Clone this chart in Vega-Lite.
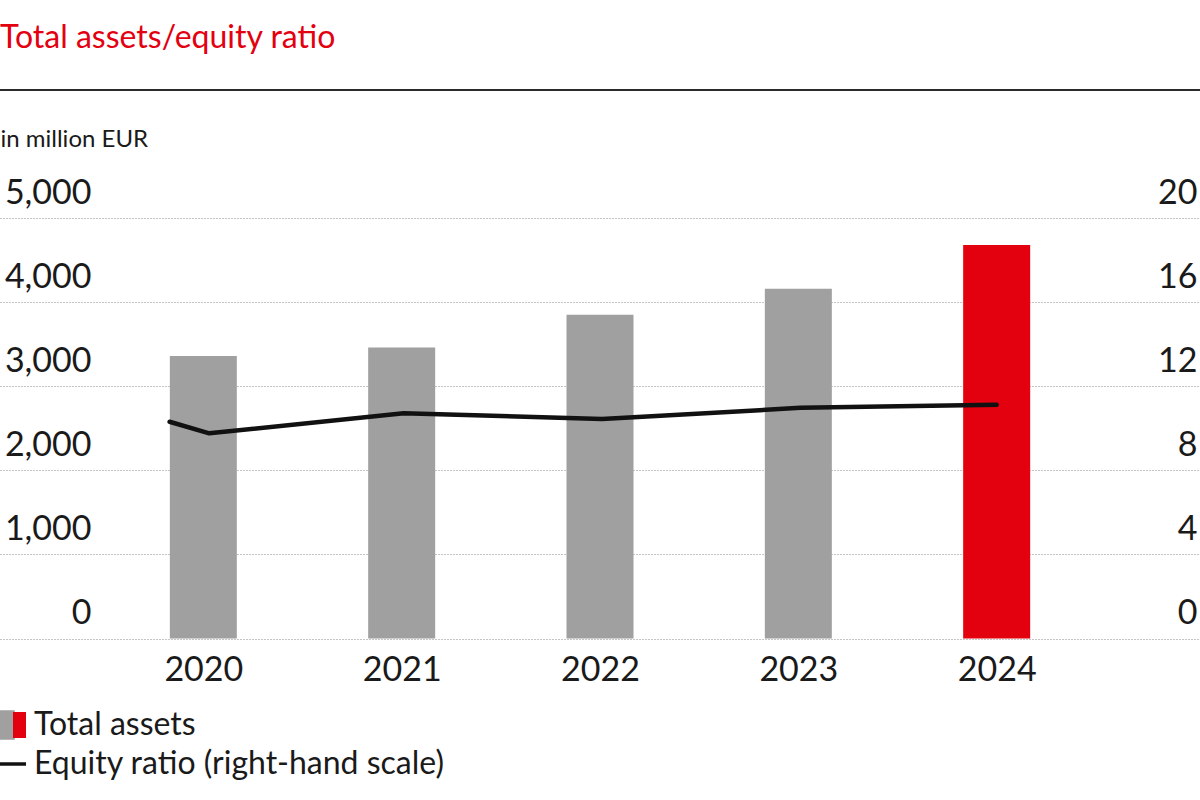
{
  "$schema": "https://vega.github.io/schema/vega-lite/v6.json",
  "width": 1200,
  "height": 420.5,
  "autosize": {"type": "none"},
  "padding": {"left": 0, "top": 218, "right": 0, "bottom": 161.5},
  "background": "white",
  "title": {
    "text": "Total assets/equity ratio",
    "anchor": "start",
    "frame": "group",
    "orient": "top",
    "baseline": "alphabetic",
    "offset": 9,
    "color": "#e3000f",
    "font": "Lato",
    "fontSize": 32,
    "fontWeight": "normal"
  },
  "datasets": {
    "assets": [
      {"year": 2020, "assets": 3360},
      {"year": 2021, "assets": 3460},
      {"year": 2022, "assets": 3850},
      {"year": 2023, "assets": 4160},
      {"year": 2024, "assets": 4680}
    ],
    "ratio": [
      {"year": 2019.83, "ratio": 10.31},
      {"year": 2020.03, "ratio": 9.76},
      {"year": 2021.01, "ratio": 10.71},
      {"year": 2022.01, "ratio": 10.44},
      {"year": 2023.01, "ratio": 10.97},
      {"year": 2024.0, "ratio": 11.12}
    ]
  },
  "layer": [
    {
      "data": {"values": [{}]},
      "mark": {"type": "rule", "color": "#2b2b2b", "strokeWidth": 2},
      "encoding": {
        "y": {"datum": 6522, "type": "quantitative", "scale": {"domain": [0, 5000]}, "axis": null}
      }
    },
    {
      "data": {"name": "assets"},
      "mark": {"type": "bar", "size": 67},
      "encoding": {
        "x": {
          "field": "year",
          "type": "quantitative",
          "scale": {"domain": [2019, 2025], "nice": false, "zero": false},
          "axis": {
            "values": [2020, 2021, 2022, 2023, 2024],
            "format": "d",
            "title": null,
            "grid": false,
            "domain": false,
            "ticks": false,
            "labelFontSize": 34,
            "labelColor": "#1a1a1a",
            "labelPadding": 15,
            "labelFlush": false,
            "labelOverlap": false
          }
        },
        "y": {
          "field": "assets",
          "type": "quantitative",
          "scale": {"domain": [0, 5000], "nice": false},
          "axis": {
            "values": [0, 1000, 2000, 3000, 4000, 5000],
            "format": ",.0f",
            "orient": "left",
            "title": "in million EUR",
            "titleAngle": 0,
            "titleAlign": "left",
            "titleBaseline": "alphabetic",
            "titleX": 0,
            "titleY": -72,
            "titleFontSize": 24,
            "titleFontWeight": "normal",
            "titleColor": "#1a1a1a",
            "grid": true,
            "gridDash": [1, 2],
            "gridColor": "#8a8a8a",
            "gridWidth": 1,
            "domain": false,
            "ticks": false,
            "tickSize": 0,
            "labelAlign": "right",
            "labelBaseline": "alphabetic",
            "labelPadding": -91,
            "labelOffset": -15,
            "labelFontSize": 34,
            "labelColor": "#1a1a1a",
            "labelFlush": false,
            "labelOverlap": false,
            "labelBound": false
          }
        },
        "color": {
          "condition": {"test": "datum.year === 2024", "value": "#e3000f"},
          "datum": "Total assets",
          "type": "nominal",
          "scale": {
            "domain": ["Total assets", "Equity ratio (right-hand scale)"],
            "range": ["#a0a0a0", "#111111"]
          },
          "legend": {
            "orient": "none",
            "legendX": 0,
            "legendY": 491,
            "direction": "vertical",
            "title": null,
            "padding": 0,
            "symbolSize": 676,
            "symbolOffset": -3,
            "labelFontSize": 32,
            "labelColor": "#1a1a1a",
            "labelOffset": 5,
            "rowPadding": 3,
            "labelLimit": 600,
            "encode": {
              "symbols": {
                "update": {
                  "shape": {"signal": "datum.value === 'Total assets' ? 'M-1,-1L0,-1L0,1L-1,1Z' : 'stroke'"},
                  "stroke": {"signal": "datum.value === 'Total assets' ? 'transparent' : '#111111'"},
                  "strokeWidth": {"value": 3.5},
                  "opacity": {"value": 1}
                }
              }
            }
          }
        },
        "opacity": {
          "datum": "Total assets",
          "type": "nominal",
          "scale": {"domain": ["Total assets"], "range": [1]},
          "legend": {
            "orient": "none",
            "legendX": 0,
            "legendY": 491,
            "direction": "vertical",
            "title": null,
            "padding": 0,
            "symbolSize": 676,
            "symbolOffset": -3,
            "symbolType": "M0,-1L1,-1L1,1L0,1Z",
            "symbolFillColor": "#e3000f",
            "symbolStrokeColor": "transparent",
            "symbolStrokeWidth": 0,
            "symbolOpacity": 1,
            "labelFontSize": 32,
            "labelColor": "transparent",
            "labelOffset": 5,
            "rowPadding": 3,
            "labelLimit": 600
          }
        }
      }
    },
    {
      "data": {"name": "ratio"},
      "mark": {"type": "line", "strokeWidth": 4.5, "strokeCap": "round", "strokeJoin": "round"},
      "encoding": {
        "x": {"field": "year", "type": "quantitative"},
        "y": {
          "field": "ratio",
          "type": "quantitative",
          "scale": {"domain": [0, 20], "nice": false},
          "axis": {
            "orient": "right",
            "values": [0, 4, 8, 12, 16, 20],
            "title": null,
            "grid": false,
            "domain": false,
            "ticks": false,
            "tickSize": 0,
            "labelAlign": "right",
            "labelBaseline": "alphabetic",
            "labelPadding": -3,
            "labelOffset": -15,
            "labelFontSize": 34,
            "labelColor": "#1a1a1a",
            "labelFlush": false,
            "labelOverlap": false,
            "labelBound": false
          }
        },
        "color": {"datum": "Equity ratio (right-hand scale)", "type": "nominal"}
      }
    }
  ],
  "resolve": {"scale": {"y": "independent"}},
  "config": {
    "font": "Lato",
    "view": {"stroke": null}
  }
}
